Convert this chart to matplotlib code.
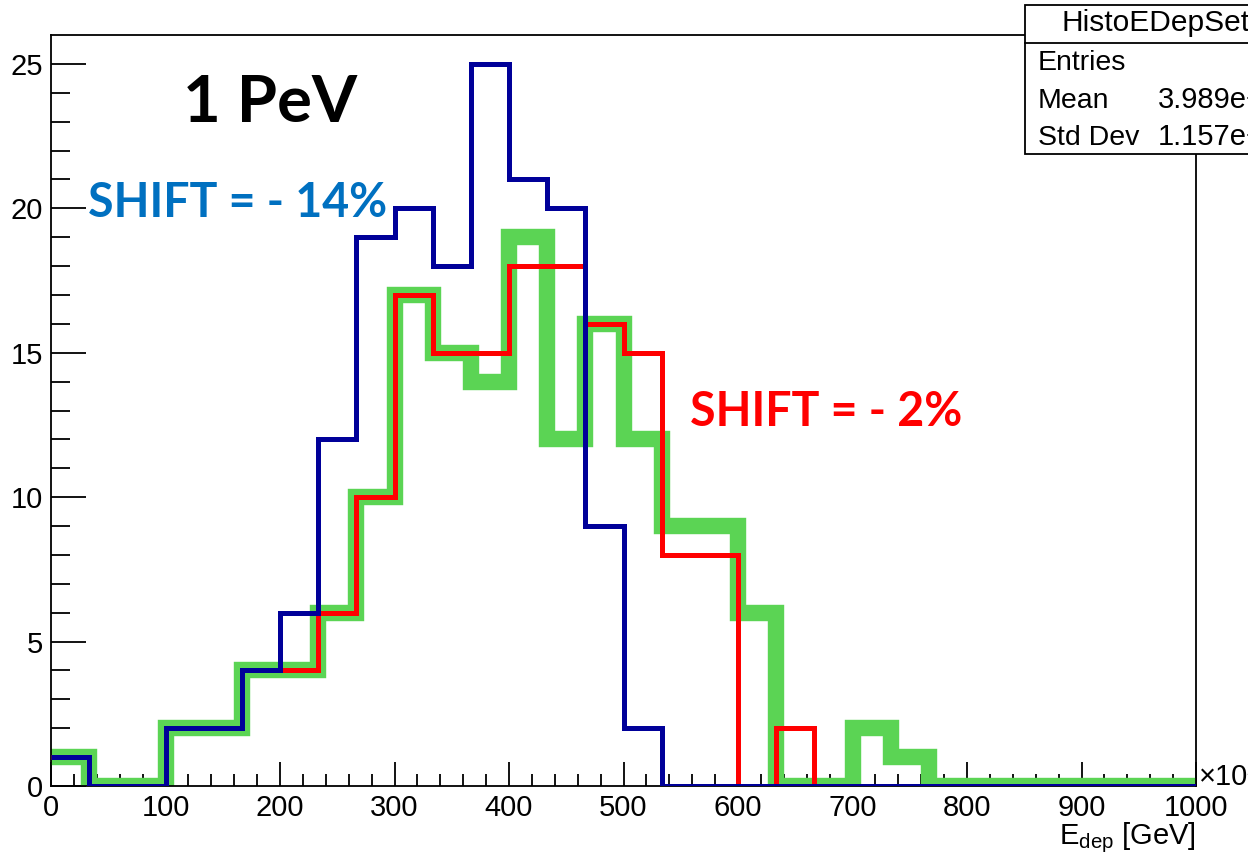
import numpy as np
import matplotlib
matplotlib.use("Agg")
import matplotlib.pyplot as plt
from matplotlib.patches import Rectangle
from matplotlib.lines import Line2D

# --- data: 30 bins between 0 and 1000 (x10^3 GeV) ---
BIN_EDGES = np.linspace(0, 1000, 31)
counts_blue = [1, 0, 0, 2, 2, 4, 6, 12, 19, 20, 18, 25, 21, 20, 9, 2,
               0, 0, 0, 0, 0, 0, 0, 0, 0, 0, 0, 0, 0, 0]
counts_red = [1, 0, 0, 2, 2, 4, 4, 6, 10, 17, 15, 15, 18, 18, 16, 15,
              8, 8, 0, 2, 0, 0, 0, 0, 0, 0, 0, 0, 0, 0]
counts_green = [1, 0, 0, 2, 2, 4, 4, 6, 10, 17, 15, 14, 19, 12, 16, 12,
                9, 9, 6, 0, 0, 2, 1, 0, 0, 0, 0, 0, 0, 0]
x_ticks = [0, 100, 200, 300, 400, 500, 600, 700, 800, 900, 1000]
y_ticks = [0, 5, 10, 15, 20, 25]

W, H = 1248, 858
BLUE = "#000099"
RED = "#ff0000"
GREEN = "#5bd454"
TXT_BLUE = "#0070c0"

plt.rcParams["font.family"] = ["Liberation Sans", "DejaVu Sans"]
plt.rcParams["mathtext.fontset"] = "custom"
plt.rcParams["mathtext.rm"] = "Liberation Sans"
plt.rcParams["mathtext.it"] = "Liberation Sans:italic"


def fx(px):
    return px / W


def fy(py):
    return 1 - py / H


fig = plt.figure(figsize=(W / 100, H / 100), dpi=100)
ax = fig.add_axes([fx(51), fy(786), fx(1196) - fx(51), fy(35) - fy(786)])

ax.stairs(counts_green, BIN_EDGES, baseline=None, color=GREEN, lw=11.8,
          joinstyle="miter", zorder=2)
ax.stairs(counts_red, BIN_EDGES, baseline=None, color=RED, lw=3.6,
          joinstyle="miter", zorder=3)
ax.stairs(counts_blue, BIN_EDGES, baseline=None, color=BLUE, lw=3.6,
          joinstyle="miter", zorder=4)

ax.set_xlim(0, 1000)
ax.set_ylim(0, 26)
ax.set_xticks(x_ticks)
ax.set_yticks(y_ticks)
ax.set_xticks(np.arange(0, 1001, 20), minor=True)
ax.set_yticks(np.arange(0, 26, 1), minor=True)
ax.tick_params(axis="both", which="both", direction="in", labelsize=21,
               width=1.3, color="black")
ax.tick_params(axis="x", which="major", length=17, pad=6)
ax.tick_params(axis="x", which="minor", length=9)
ax.tick_params(axis="y", which="major", length=25, pad=6)
ax.tick_params(axis="y", which="minor", length=14)
for s in ax.spines.values():
    s.set_linewidth(1.3)

# annotations
fig.text(fx(183), fy(122), "1 PeV", fontsize=47, fontweight="bold",
         family="Lato", color="black", va="baseline")
fig.text(fx(88), fy(217), "SHIFT = - 14%", fontsize=33.5, fontweight="bold",
         family="Lato", color=TXT_BLUE, va="baseline")
fig.text(fx(690), fy(426), "SHIFT = - 2%", fontsize=33.5, fontweight="bold",
         family="Lato", color=RED, va="baseline")

# axis title and exponent
fig.text(fx(1196), fy(844), r"E$_{\mathrm{dep}}$ [GeV]", fontsize=21,
         ha="right", va="baseline")
fig.text(fx(1199), fy(777), "\u00d710\u00b3", fontsize=21, ha="left",
         va="center")

# stat box (cut by the picture edge)
box = Rectangle((fx(1025), fy(154)), fx(1300) - fx(1025), fy(5) - fy(154),
                transform=fig.transFigure, facecolor="white",
                edgecolor="black", lw=1.3, zorder=10)
fig.patches.append(box)
fig.lines.append(Line2D([fx(1025), fx(1300)], [fy(43), fy(43)],
                        transform=fig.transFigure, color="black", lw=1.3,
                        zorder=11))
fig.text(fx(1062), fy(31), "HistoEDepSet", fontsize=21.5, va="baseline",
         zorder=12)
fig.text(fx(1038), fy(70), "Entries", fontsize=20.5, va="baseline", zorder=12)
fig.text(fx(1038), fy(108), "Mean", fontsize=20.5, va="baseline", zorder=12)
fig.text(fx(1038), fy(145), "Std Dev", fontsize=20.5, va="baseline", zorder=12)
fig.text(fx(1158), fy(108), "3.989e+05", fontsize=21, va="baseline",
         zorder=12)
fig.text(fx(1158), fy(145), "1.157e+05", fontsize=21, va="baseline",
         zorder=12)

fig.savefig("out.png", dpi=100)
